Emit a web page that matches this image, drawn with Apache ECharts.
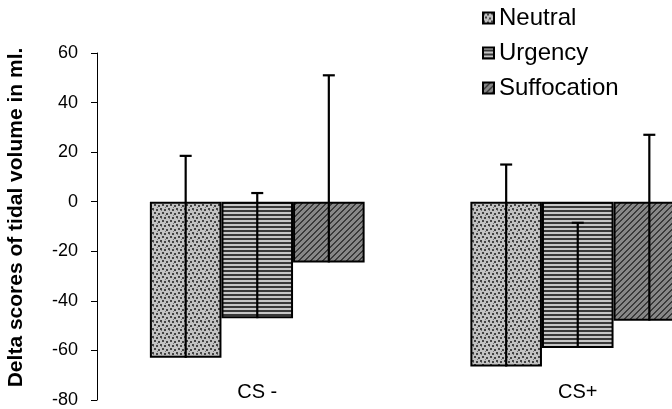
<!DOCTYPE html>
<html>
<head>
<meta charset="utf-8">
<script src="https://cdn.jsdelivr.net/npm/echarts@6/dist/echarts.min.js"></script>
<style>
  html, body { margin: 0; padding: 0; background: #fff; }
  #chart { width: 672px; height: 409px; }
</style>
</head>
<body>
<div id="chart"></div>
<script>
// Conditions on the category axis
const categories = ['CS -', 'CS+'];
// Mean delta scores (ml) per condition
const neutralMean = [-63, -66.5];
const urgencyMean = [-47, -59];
const suffocationMean = [-24.5, -48];
// Upper error bar length (ml)
const neutralErr = [81.5, 81.5];
const urgencyErr = [50.5, 50.5];
const suffocationErr = [75.5, 75];
// Value axis ticks
const yTicks = [-80, -60, -40, -20, 0, 20, 40, 60];

const seriesNames = ['Neutral', 'Urgency', 'Suffocation'];
const means = [neutralMean, urgencyMean, suffocationMean];
const errs = [neutralErr, urgencyErr, suffocationErr];

// Fill patterns for the three bar styles
function makeTile(size, paint) {
  const c = document.createElement('canvas');
  c.width = size; c.height = size;
  const ctx = c.getContext('2d');
  paint(ctx, size);
  return c;
}
const dotted = makeTile(8, (ctx, s) => {
  ctx.fillStyle = '#c2c2c2'; ctx.fillRect(0, 0, s, s);
  ctx.fillStyle = '#444';
  [[0, 0], [4, 1], [2, 4], [6, 5]].forEach(([x, y]) => ctx.fillRect(x, y, 2, 2));
  ctx.fillStyle = '#777';
  [[5, 7], [1, 2]].forEach(([x, y]) => ctx.fillRect(x, y, 1, 1));
});
const striped = makeTile(4, (ctx, s) => {
  ctx.fillStyle = '#c6c6c6'; ctx.fillRect(0, 0, s, s);
  ctx.fillStyle = '#383838'; ctx.fillRect(0, 2, s, 2);
});
const hatched = makeTile(6, (ctx, s) => {
  ctx.fillStyle = '#878787'; ctx.fillRect(0, 0, s, s);
  ctx.fillStyle = '#3a3a3a';
  for (let x = 0; x < s; x++) for (let y = 0; y < s; y++) {
    if ((x + y) % s < 2) ctx.fillRect(x, y, 1, 1);
  }
});
const patterns = [dotted, striped, hatched];

const GAP = 0.33;
const barSeries = seriesNames.map((name, i) => ({
  name,
  type: 'bar',
  data: means[i],
  barGap: '0%',
  barCategoryGap: (GAP * 100) + '%',
  itemStyle: {
    color: { image: patterns[i], repeat: 'repeat' },
    borderColor: '#000',
    borderWidth: 2
  },
  emphasis: { disabled: true },
  z: 2
}));

// Error bar items: [category, series index, mean, top]
const errData = [];
means.forEach((arr, k) => arr.forEach((m, c) => errData.push([c, k, m, m + errs[k][c]])));

const errorSeries = {
  type: 'custom',
  name: 'error',
  data: errData,
  encode: { x: 0, y: [2, 3] },
  z: 5,
  silent: true,
  clip: false,
  renderItem(params, api) {
    const cat = api.value(0), k = api.value(1);
    const band = api.size([1, 0])[0];
    const barW = band * (1 - GAP) / 3;
    const cx = api.coord([cat, 0])[0] + (k - 1) * barW;
    const yTop = api.coord([cat, api.value(3)])[1];
    const yBot = api.coord([cat, api.value(2)])[1];
    const style = { stroke: '#000', lineWidth: 2.2 };
    return {
      type: 'group',
      children: [
        { type: 'line', shape: { x1: cx, y1: yBot, x2: cx, y2: yTop }, style },
        { type: 'line', shape: { x1: cx - 6, y1: yTop, x2: cx + 6, y2: yTop }, style }
      ]
    };
  }
};

const chart = echarts.init(document.getElementById('chart'), null, { renderer: 'canvas' });
chart.setOption({
  animation: false,
  backgroundColor: '#fff',
  textStyle: { fontFamily: 'Liberation Sans, Arial, sans-serif', color: '#000' },
  legend: {
    data: seriesNames,
    orient: 'vertical',
    left: 477,
    top: 1,
    itemWidth: 11,
    itemHeight: 11,
    itemGap: 11,
    icon: 'rect',
    textStyle: { fontSize: 24, color: '#000', fontFamily: 'Liberation Sans, Arial, sans-serif' },
    selectedMode: false
  },
  // plot area runs past the right edge of the canvas, so the last bar is cut off
  grid: { left: 97, top: 53, bottom: 9, width: 641, containLabel: false, outerBoundsMode: 'none' },
  xAxis: {
    type: 'category',
    data: categories,
    axisLine: { show: false },
    axisTick: { show: false },
    axisLabel: { fontSize: 20, color: '#000', margin: -8, verticalAlign: 'middle' }
  },
  yAxis: {
    type: 'value',
    min: yTicks[0],
    max: yTicks[yTicks.length - 1],
    interval: 20,
    name: 'Delta scores of tidal volume in ml.',
    nameLocation: 'middle',
    nameGap: 70,
    nameTextStyle: { fontSize: 21, fontWeight: 'bold', color: '#000', padding: [0, 0, 0, 18] },
    axisLine: { show: true, lineStyle: { color: '#000', width: 1 } },
    axisTick: { show: true, length: 6, lineStyle: { color: '#000' } },
    axisLabel: { fontSize: 18, color: '#000', margin: 19 },
    splitLine: { show: false }
  },
  series: [...barSeries, errorSeries]
});
</script>
</body>
</html>
